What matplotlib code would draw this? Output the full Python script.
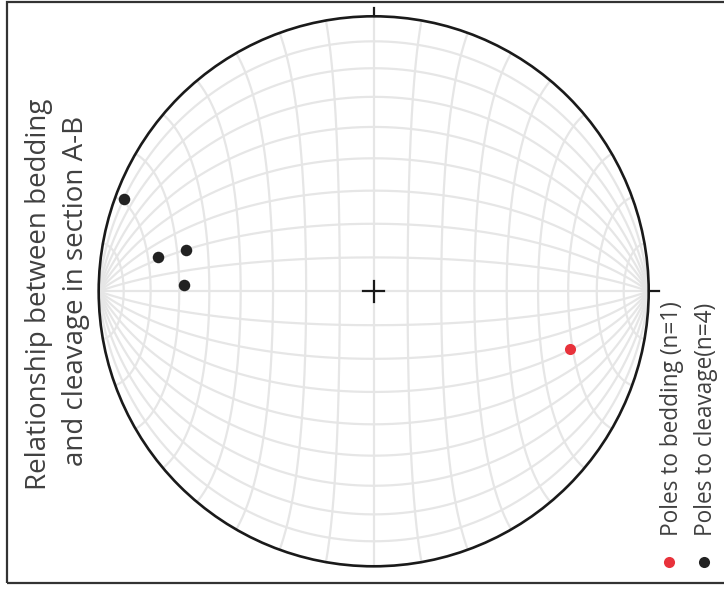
import numpy as np
import matplotlib.pyplot as plt
from matplotlib.patches import Circle, Rectangle

# poles (trend / plunge in degrees)
bedding_trend = [106.4]
bedding_plunge = [26.5]
cleavage_trend = [290.2, 279.1, 282.3, 272.0]
cleavage_plunge = [3.6, 21.8, 30.7, 31.7]

title_lines = ["Relationship between bedding", "and cleavage in section A-B"]
legend_labels = ["Poles to bedding (n=1)", "Poles to cleavage(n=4)"]
colors = ["#e8323b", "#222222"]

W, H = 724, 596
cx, cy, R = 373.7, 291.3, 275.0


def project(trend, plunge):
	# equal-area (Schmidt) projection of a line
	trend = np.radians(np.asarray(trend))
	plunge = np.radians(np.asarray(plunge))
	r = np.sqrt(2) * np.sin((np.pi / 2 - plunge) / 2)
	return r * np.sin(trend), r * np.cos(trend)


def project_vec(x, y, z):
	phi = np.arccos(np.clip(z, -1, 1))
	r = np.sqrt(2) * np.sin(phi / 2)
	az = np.arctan2(y, x)
	return r * np.cos(az), r * np.sin(az)


plt.rcParams['font.family'] = ['Open Sans', 'DejaVu Sans']

fig = plt.figure(figsize=(W / 100, H / 100), dpi=100)
ax = fig.add_axes([0, 0, 1, 1])
ax.set_xlim(-cx / R, (W - cx) / R)
ax.set_ylim(-(H - cy) / R, cy / R)
ax.set_aspect('equal')
ax.axis('off')

# grid: great circles through the E-W axis, small circles around it
grid_kw = dict(color='#e6e6e6', lw=1.6, zorder=1, solid_capstyle='butt')
t = np.linspace(0, np.pi, 400)
for a in np.radians(np.arange(10, 180, 10)):
	gx, gy = project_vec(np.cos(t), np.sin(t) * np.cos(a), np.sin(t) * np.sin(a))
	ax.plot(gx, gy, **grid_kw)
for b in np.radians(np.arange(10, 180, 10)):
	sx, sy = project_vec(np.full_like(t, np.cos(b)), np.sin(b) * np.cos(t), np.sin(b) * np.sin(t))
	ax.plot(sx, sy, **grid_kw)

# primitive circle, ticks and centre cross
ax.add_patch(Circle((0, 0), 1, fill=False, ec='#1a1a1a', lw=1.9, zorder=3))
ax.plot([0, 0], [1, 1.03], color='#1a1a1a', lw=1.6, zorder=3)
ax.plot([1, 1.036], [0, 0], color='#1a1a1a', lw=1.6, zorder=3)
ax.plot([-0.039, 0.039], [0, 0], color='#1a1a1a', lw=1.6, zorder=3)
ax.plot([0, 0], [-0.039, 0.039], color='#1a1a1a', lw=1.6, zorder=3)

# poles
bx, by = project(bedding_trend, bedding_plunge)
ax.plot(bx, by, 'o', color=colors[0], markersize=8, mec='none', zorder=4)
kx, ky = project(cleavage_trend, cleavage_plunge)
ax.plot(kx, ky, 'o', color=colors[1], markersize=8.3, mec='none', zorder=4)

# outer frame
fig.patches.append(Rectangle((7 / W, 1 - 583 / H), 1.0, 581 / H, transform=fig.transFigure,
	fill=False, ec='#333333', lw=1.6))

# title (rotated)
fig.text(39 / W, 1 - 294 / H, title_lines[0], rotation=90, ha='center', va='center',
	fontsize=20, color='#404040')
fig.text(76 / W, 1 - 291 / H, title_lines[1], rotation=90, ha='center', va='center',
	fontsize=20, color='#404040')

# legend (rotated)
for i, (lx, mx) in enumerate([(672, 668.5), (706, 704)]):
	fig.text(lx / W, 1 - 536 / H, legend_labels[i], rotation=90, ha='center', va='bottom',
		fontsize=16.3, color='#404040')
	fig.lines.append(plt.Line2D([mx / W], [1 - 561.7 / H], marker='o', color=colors[i],
		markersize=8, mec='none', transform=fig.transFigure))

fig.savefig('out.png', dpi=100)
